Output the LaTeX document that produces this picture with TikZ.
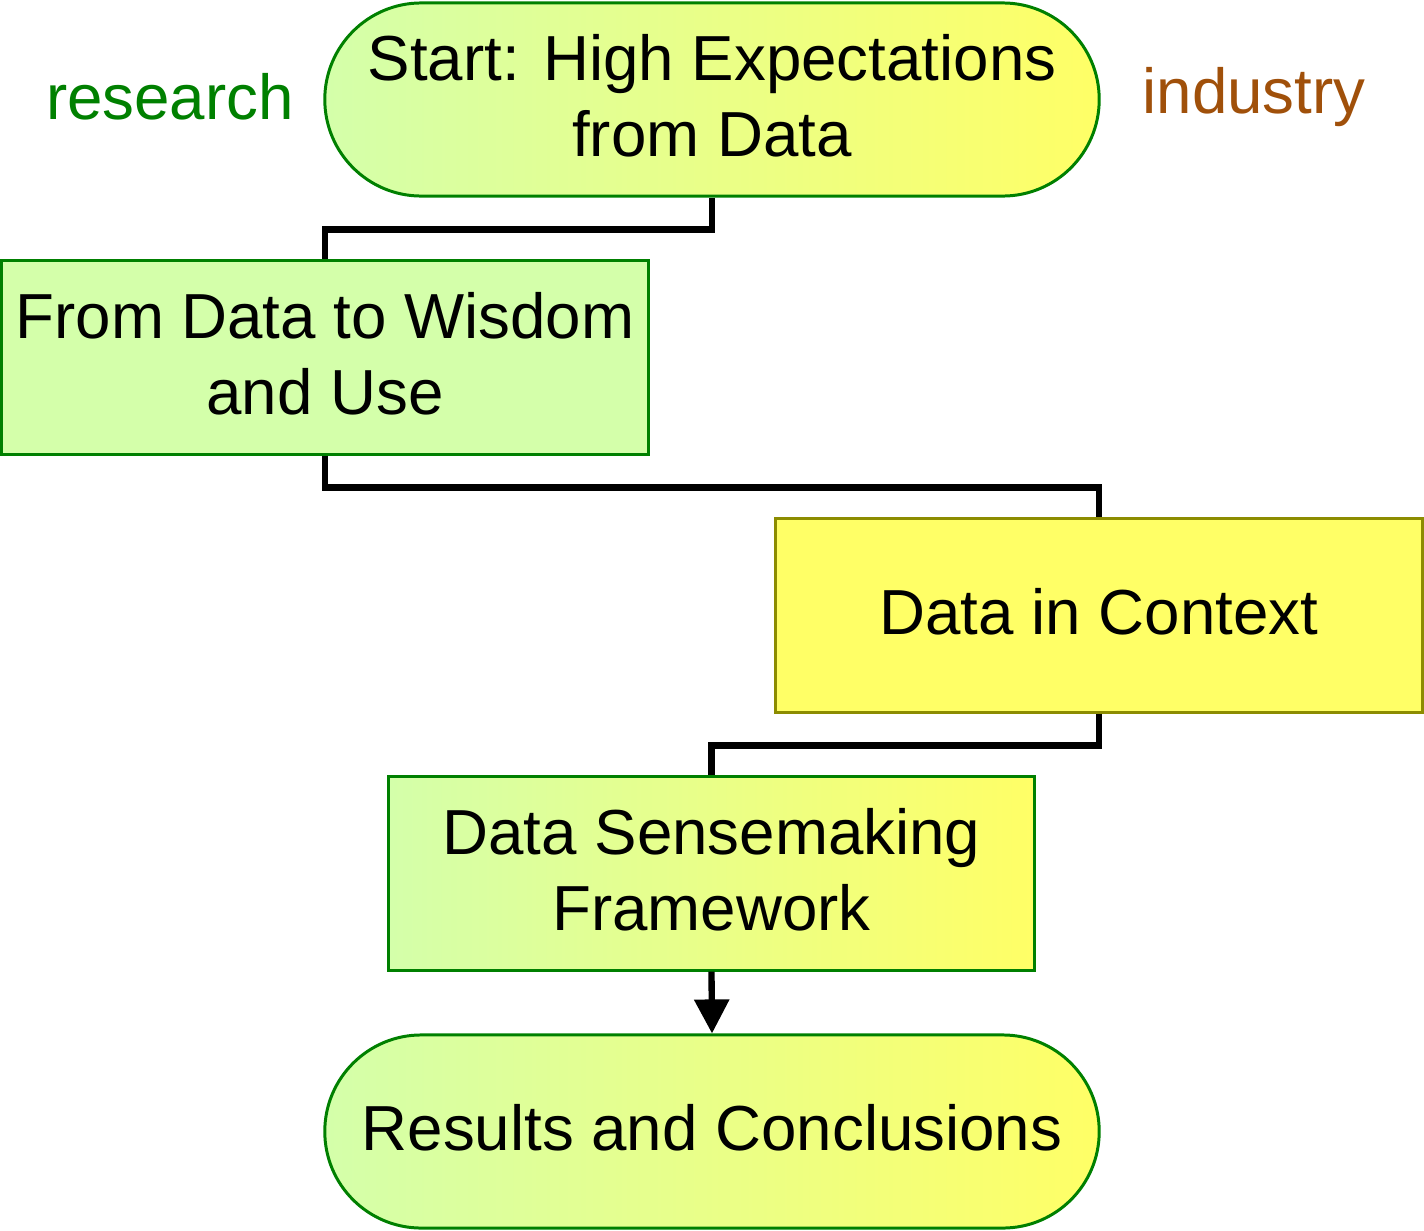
\documentclass[tikz,border=0pt]{standalone}
\usepackage{fontspec}
\setmainfont{Liberation Sans}
\usetikzlibrary{arrows.meta, positioning}

\definecolor{lgreen}{HTML}{D4FFAA}
\definecolor{lyellow}{HTML}{FFFF66}
\definecolor{dgreen}{HTML}{008000}
\definecolor{dolive}{HTML}{8C8C00}
\definecolor{rust}{HTML}{A0500A}

\tikzset{
  box/.style={draw=dgreen, line width=0.85pt, minimum width=6.46cm, minimum height=1.93cm,
    align=center, inner sep=0pt, text depth=2.3pt, font=\fontsize{18.1}{21.4}\selectfont},
  grad/.style={left color=lgreen, right color=lyellow},
  term/.style={box, grad, minimum width=7.74cm, rounded corners=0.965cm},
  conn/.style={line width=1.8pt, black},
  side/.style={font=\fontsize{18.1}{21.4}\selectfont}
}

\begin{document}
\begin{tikzpicture}[x=0.01cm, y=-0.01cm]
  \useasboundingbox (0,0) rectangle (1424,1230);

  % the five steps
  \node[term] (start) at (712,99.5) {Start: High Expectations\\from Data};
  \node[box, fill=lgreen] (wisdom) at (325,357.5) {From Data to Wisdom\\and Use};
  \node[box, fill=lyellow, draw=dolive] (context) at (1099,615.5) {Data in Context};
  \node[box, grad, minimum width=6.45cm] (sense) at (711.5,873.5) {Data Sensemaking\\Framework};
  \node[term] (results) at (712,1131.5) {Results and Conclusions};

  % side labels
  \node[side, text=dgreen] (research) at (170,97) {research};
  \node[side, text=rust] (industry) at (1254,97) {industry};

  % connectors
  \draw[conn] (start.south) -- ++(0,32) -| (wisdom.north);
  \draw[conn] (wisdom.south) -- ++(0,32) -| (context.north);
  \draw[conn] (context.south) -- ++(0,32) -| (sense.north);
  \draw[conn, -{Triangle[length=0.34cm, width=0.34cm]}] (sense.south) -- (results.north);
\end{tikzpicture}
\end{document}
